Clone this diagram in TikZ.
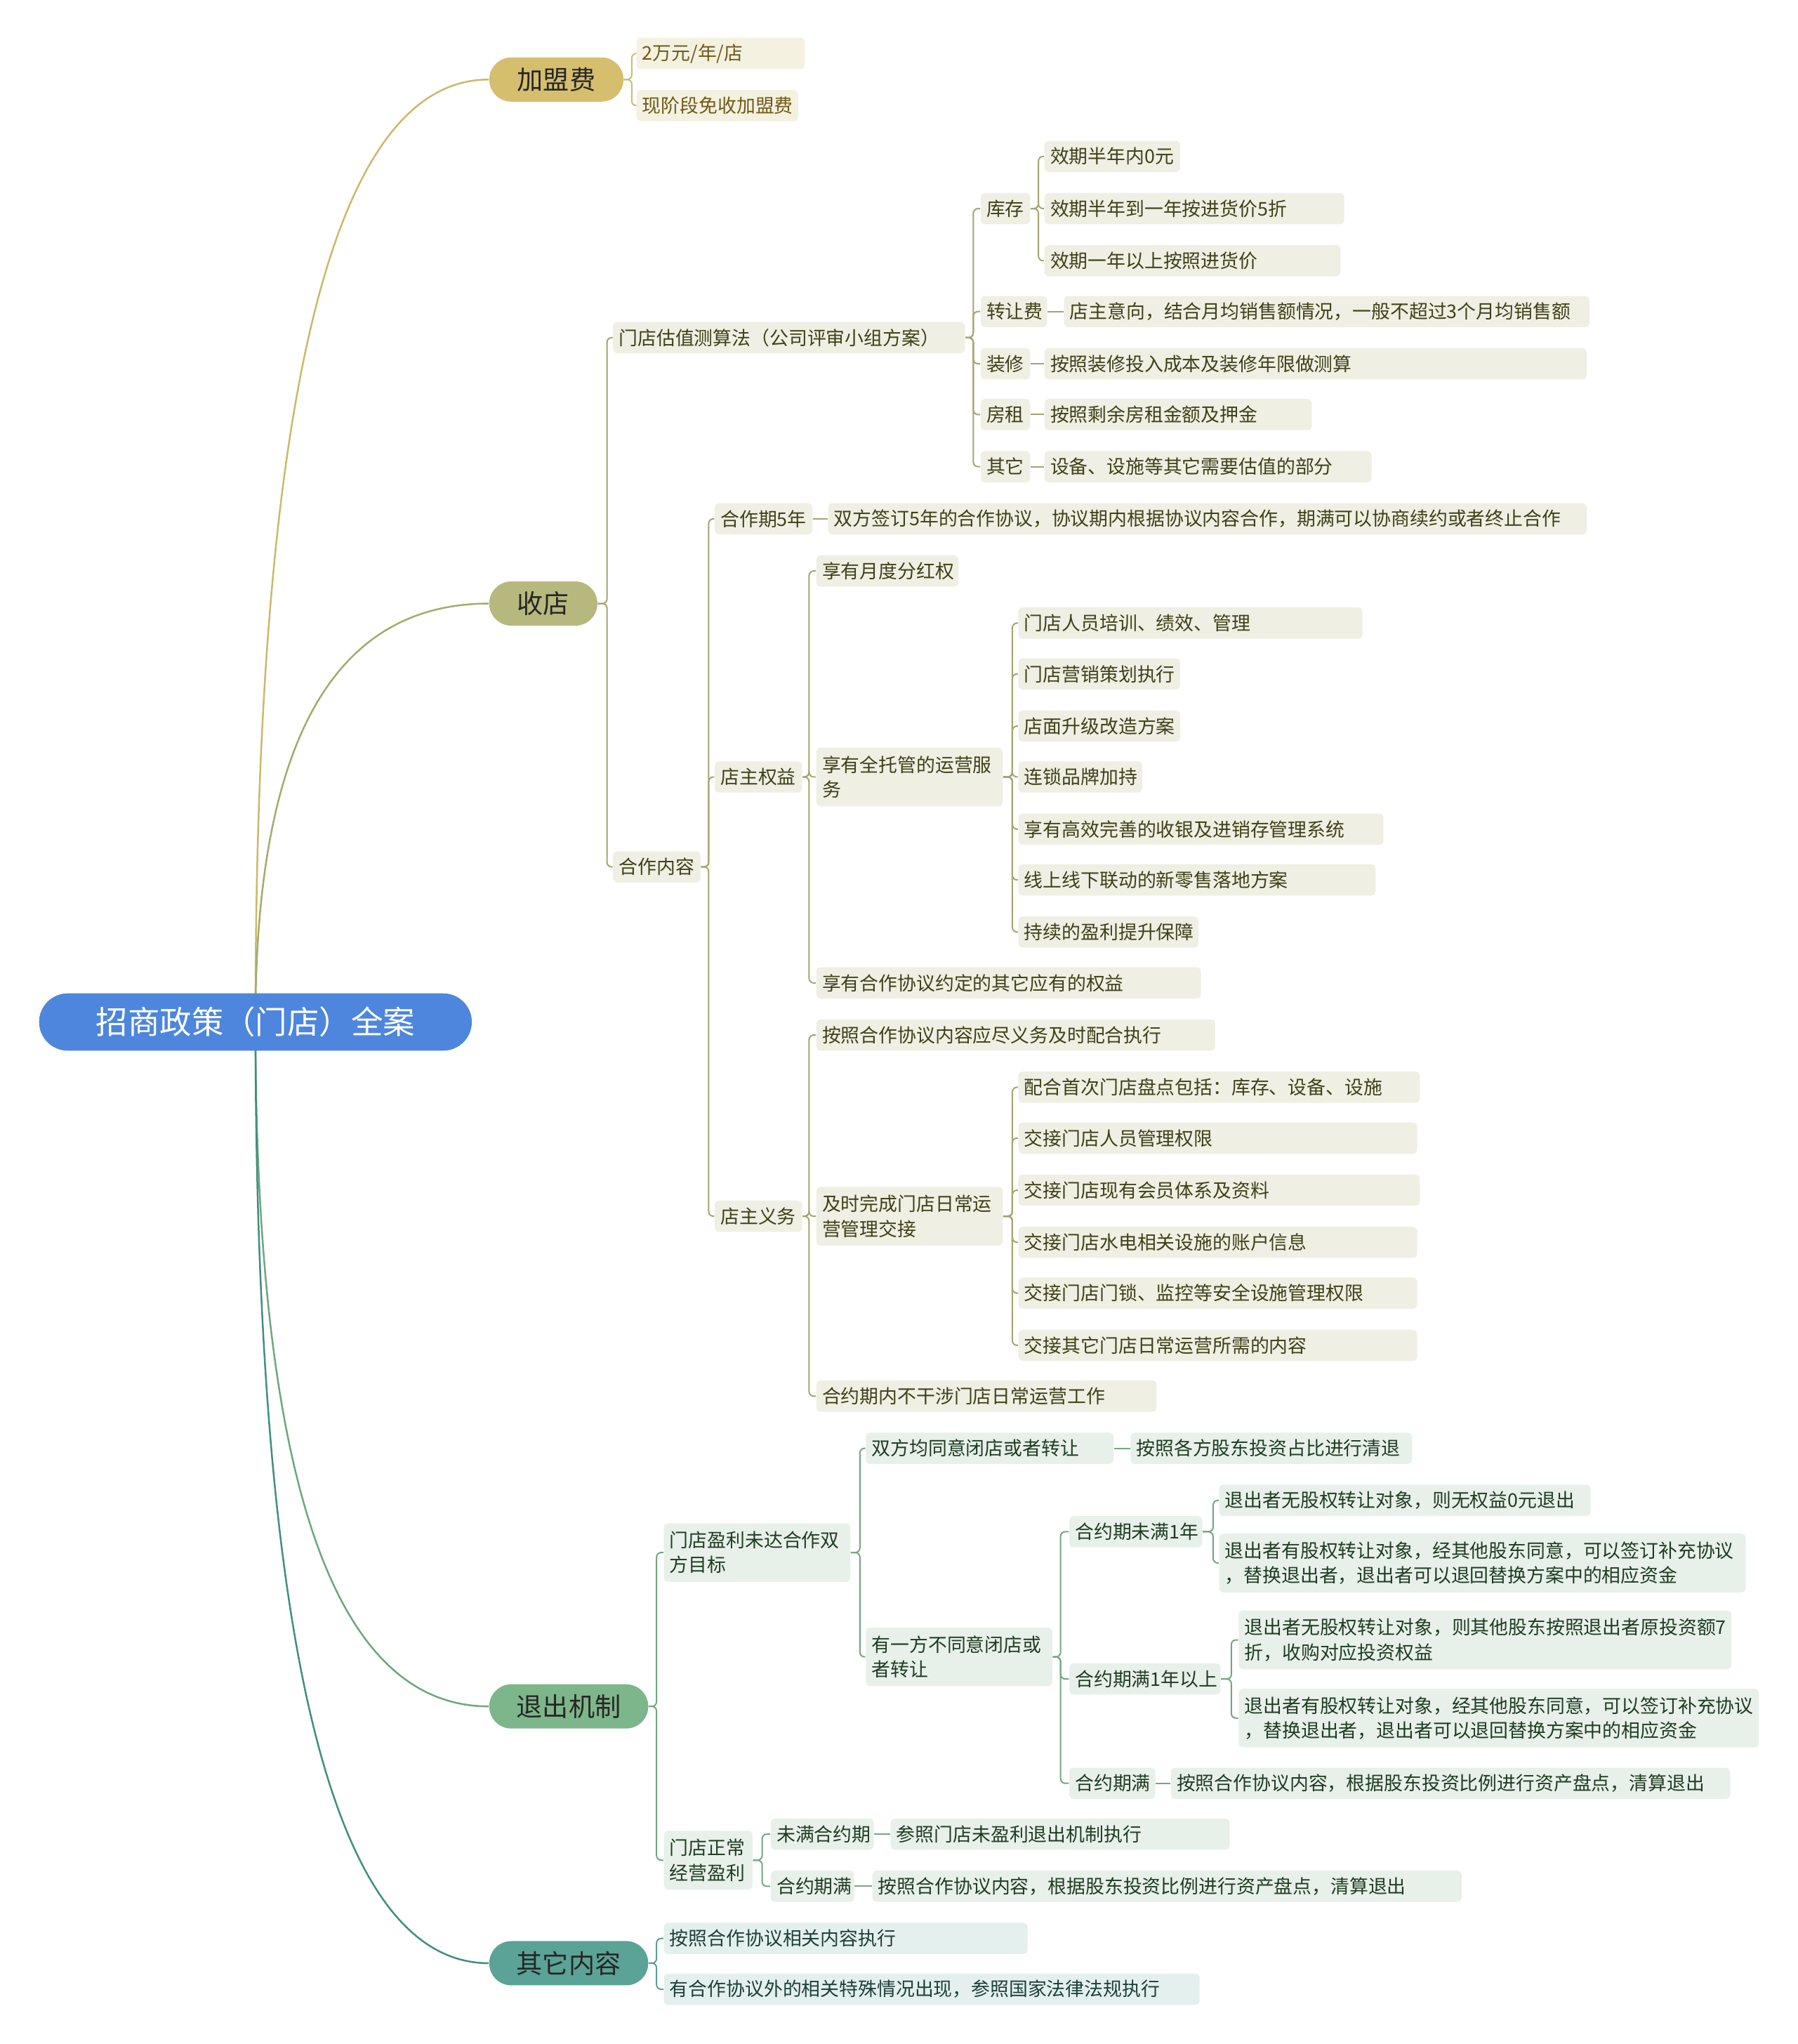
\documentclass[tikz,border=0pt]{standalone}
\usepackage{fontspec}
\setmainfont{Noto Sans CJK SC}
\usetikzlibrary{backgrounds,calc}
\definecolor{cRoot}{HTML}{4D86DC}
\definecolor{cJM}{HTML}{D5BE6E}
\definecolor{cSD}{HTML}{B7B87D}
\definecolor{cTC}{HTML}{7DB68A}
\definecolor{cQT}{HTML}{5AA396}
\definecolor{rJM}{HTML}{CDB86A}
\definecolor{rSD}{HTML}{A3AC6A}
\definecolor{rTC}{HTML}{6FA67E}
\definecolor{rQT}{HTML}{3F8F80}
\definecolor{fA}{HTML}{F4F1E1}
\definecolor{fB}{HTML}{EFEFE3}
\definecolor{fC}{HTML}{E8F0EA}
\definecolor{fD}{HTML}{E4F0EE}
\definecolor{tA}{HTML}{6E5A18}
\definecolor{tB}{HTML}{40401A}
\definecolor{tC}{HTML}{1F3D22}
\definecolor{tD}{HTML}{1E3F3A}
\definecolor{lA}{HTML}{CDBB74}
\definecolor{lB}{HTML}{A4A56E}
\definecolor{lC}{HTML}{74A682}
\definecolor{lD}{HTML}{5C9E92}
\newcommand\bx[6]{\node[#1, anchor=west, minimum width={(#4-#3)*0.56pt}, text width={(#4-#3)*0.56pt-5pt}] (#2) at (#3,#5) {#6};}
\newcommand\pl[6]{\node[pill, fill=#6, anchor=west, minimum width={(#3-#2)*0.56pt}] (#1) at (#2,#4) {#5};}
\newcommand\br[4]{\foreach \c in {#4}{\draw[#1] (#2.east) -- ++(#3,0) |- (\c.west);}}
\begin{document}
\begin{tikzpicture}[x=0.56pt,y=-0.56pt,
  leaf/.style={rounded corners=1.7pt, inner xsep=2.5pt, inner ysep=0pt, minimum height=13.4pt, font=\fontsize{8.1}{10.6}\selectfont, align=left},
  leafA/.style={leaf, fill=fA, text=tA},
  leafB/.style={leaf, fill=fB, text=tB},
  leafC/.style={leaf, fill=fC, text=tC},
  leafD/.style={leaf, fill=fD, text=tD},
  two/.style={minimum height=25.2pt},
  pill/.style={rounded corners=9.5pt, minimum height=19pt, inner sep=0pt, font=\fontsize{11.2}{13}\selectfont, text=black!85},
  conA/.style={draw=lA, line width=0.6pt, rounded corners=2pt},
  conB/.style={draw=lB, line width=0.6pt, rounded corners=2pt},
  conC/.style={draw=lC, line width=0.6pt, rounded corners=2pt},
  conD/.style={draw=lD, line width=0.6pt, rounded corners=2pt},
  rootline/.style={line width=0.75pt}
]
\useasboundingbox (0,0) rectangle (1379,1568);
% root
\node[fill=cRoot, text=white, rounded corners=12.3pt, minimum width={332*0.56pt}, minimum height=24.6pt, inner sep=0pt, font=\fontsize{13.7}{16}\selectfont] (root) at (196,784) {招商政策（门店）全案};
% level 1
\pl{jm}{375}{478}{61}{加盟费}{cJM}
\pl{sd}{375}{458}{463}{收店}{cSD}
\pl{tc}{375}{497}{1309}{退出机制}{cTC}
\pl{qt}{375}{497}{1506}{其它内容}{cQT}
% jm
\bx{leafA}{jm1}{488}{617}{41}{2万元/年/店}
\bx{leafA}{jm2}{488}{612}{81}{现阶段免收加盟费}
% sd
\bx{leafB}{gz}{470}{740}{259}{门店估值测算法（公司评审小组方案）}
\bx{leafB}{hz}{470}{537}{665}{合作内容}
\bx{leafB}{kc}{752}{790}{160}{库存}
\bx{leafB}{zr}{752}{803}{239}{转让费}
\bx{leafB}{zx}{752}{790}{279}{装修}
\bx{leafB}{fz}{752}{790}{318}{房租}
\bx{leafB}{qi}{752}{790}{358}{其它}
\bx{leafB}{kc1}{801}{905}{120}{效期半年内0元}
\bx{leafB}{kc2}{801}{1031}{160}{效期半年到一年按进货价5折}
\bx{leafB}{kc3}{801}{1028}{200}{效期一年以上按照进货价}
\bx{leafB}{zr1}{816}{1219}{239}{店主意向，结合月均销售额情况，一般不超过3个月均销售额}
\bx{leafB}{zx1}{801}{1217}{279}{按照装修投入成本及装修年限做测算}
\bx{leafB}{fz1}{801}{1006}{318}{按照剩余房租金额及押金}
\bx{leafB}{qi1}{801}{1052}{358}{设备、设施等其它需要估值的部分}
\bx{leafB}{hz1}{548}{623}{398}{合作期5年}
\bx{leafB}{hz1a}{635}{1217}{398}{双方签订5年的合作协议，协议期内根据协议内容合作，期满可以协商续约或者终止合作}
\bx{leafB}{qy}{548}{615}{596}{店主权益}
\bx{leafB}{yw}{548}{615}{933}{店主义务}
\bx{leafB}{qy1}{626}{735}{438}{享有月度分红权}
\bx{leafB,two}{qy2}{626}{769}{596}{享有全托管的运营服\\务}
\bx{leafB}{qy3}{626}{921}{754}{享有合作协议约定的其它应有的权益}
\bx{leafB}{s1}{781}{1045}{478}{门店人员培训、绩效、管理}
\bx{leafB}{s2}{781}{905}{517}{门店营销策划执行}
\bx{leafB}{s3}{781}{905}{557}{店面升级改造方案}
\bx{leafB}{s4}{781}{876}{596}{连锁品牌加持}
\bx{leafB}{s5}{781}{1061}{636}{享有高效完善的收银及进销存管理系统}
\bx{leafB}{s6}{781}{1055}{675}{线上线下联动的新零售落地方案}
\bx{leafB}{s7}{781}{919}{715}{持续的盈利提升保障}
\bx{leafB}{yw1}{626}{932}{794}{按照合作协议内容应尽义务及时配合执行}
\bx{leafB,two}{yw2}{626}{769}{933}{及时完成门店日常运\\营管理交接}
\bx{leafB}{yw3}{626}{887}{1071}{合约期内不干涉门店日常运营工作}
\bx{leafB}{t1}{781}{1089}{834}{配合首次门店盘点包括：库存、设备、设施}
\bx{leafB}{t2}{781}{1087}{873}{交接门店人员管理权限}
\bx{leafB}{t3}{781}{1089}{913}{交接门店现有会员体系及资料}
\bx{leafB}{t4}{781}{1087}{953}{交接门店水电相关设施的账户信息}
\bx{leafB}{t5}{781}{1087}{992}{交接门店门锁、监控等安全设施管理权限}
\bx{leafB}{t6}{781}{1087}{1032}{交接其它门店日常运营所需的内容}
% tc
\bx{leafC,two}{u1}{509}{652}{1191}{门店盈利未达合作双\\方目标}
\bx{leafC,two}{u2}{509}{577}{1427}{门店正常\\经营盈利}
\bx{leafC}{v1}{664}{854}{1111}{双方均同意闭店或者转让}
\bx{leafC}{v1a}{867}{1083}{1111}{按照各方股东投资占比进行清退}
\bx{leafC,two}{v2}{664}{807}{1271}{有一方不同意闭店或\\者转让}
\bx{leafC}{w1}{820}{922}{1175}{合约期未满1年}
\bx{leafC}{w2}{820}{936}{1288}{合约期满1年以上}
\bx{leafC}{w3}{820}{886}{1368}{合约期满}
\bx{leafC}{x1}{935}{1220}{1151}{退出者无股权转让对象，则无权益0元退出}
\bx{leafC,two}{x2}{935}{1339}{1199}{退出者有股权转让对象，经其他股东同意，可以签订补充协议\\，替换退出者，退出者可以退回替换方案中的相应资金}
\bx{leafC,two}{y1}{950}{1328}{1258}{退出者无股权转让对象，则其他股东按照退出者原投资额7\\折，收购对应投资权益}
\bx{leafC,two}{y2}{950}{1349}{1318}{退出者有股权转让对象，经其他股东同意，可以签订补充协议\\，替换退出者，退出者可以退回替换方案中的相应资金}
\bx{leafC}{w3a}{898}{1327}{1368}{按照合作协议内容，根据股东投资比例进行资产盘点，清算退出}
\bx{leafC}{z1}{591}{670}{1407}{未满合约期}
\bx{leafC}{z1a}{683}{943}{1407}{参照门店未盈利退出机制执行}
\bx{leafC}{z2}{591}{655}{1447}{合约期满}
\bx{leafC}{z2a}{669}{1121}{1447}{按照合作协议内容，根据股东投资比例进行资产盘点，清算退出}
% qt
\bx{leafD}{q1}{509}{788}{1487}{按照合作协议相关内容执行}
\bx{leafD}{q2}{509}{920}{1526}{有合作协议外的相关特殊情况出现，参照国家法律法规执行}
% connectors
\begin{pgfonlayer}{background}
\fill[white] (0,0) rectangle (1379,1568);
\foreach \n/\cc in {jm/rJM, sd/rSD, tc/rTC, qt/rQT}{
  \draw[rootline, draw=\cc] (root.center)
    .. controls ($(root.center)!0.6667!(root.center |- \n.west)$)
    and ($(\n.west)!0.6667!(root.center |- \n.west)$) .. (\n.west);
}
\br{conA}{jm}{6}{jm1,jm2}
\br{conB}{sd}{7}{gz,hz}
\br{conB}{gz}{6}{kc,zr,zx,fz,qi}
\br{conB}{kc}{6}{kc1,kc2,kc3}
\draw[conB] (zr.east) -- (zr1.west);
\draw[conB] (zx.east) -- (zx1.west);
\draw[conB] (fz.east) -- (fz1.west);
\draw[conB] (qi.east) -- (qi1.west);
\br{conB}{hz}{6}{hz1,qy,yw}
\draw[conB] (hz1.east) -- (hz1a.west);
\br{conB}{qy}{5}{qy1,qy2,qy3}
\br{conB}{qy2}{7}{s1,s2,s3,s4,s5,s6,s7}
\br{conB}{yw}{5}{yw1,yw2,yw3}
\br{conB}{yw2}{7}{t1,t2,t3,t4,t5,t6}
\br{conC}{tc}{6}{u1,u2}
\br{conC}{u1}{7}{v1,v2}
\draw[conC] (v1.east) -- (v1a.west);
\br{conC}{v2}{6}{w1,w2,w3}
\br{conC}{w1}{8}{x1,x2}
\br{conC}{w2}{8}{y1,y2}
\draw[conC] (w3.east) -- (w3a.west);
\br{conC}{u2}{7}{z1,z2}
\draw[conC] (z1.east) -- (z1a.west);
\draw[conC] (z2.east) -- (z2a.west);
\br{conD}{qt}{6}{q1,q2}
\end{pgfonlayer}
\end{tikzpicture}
\end{document}
